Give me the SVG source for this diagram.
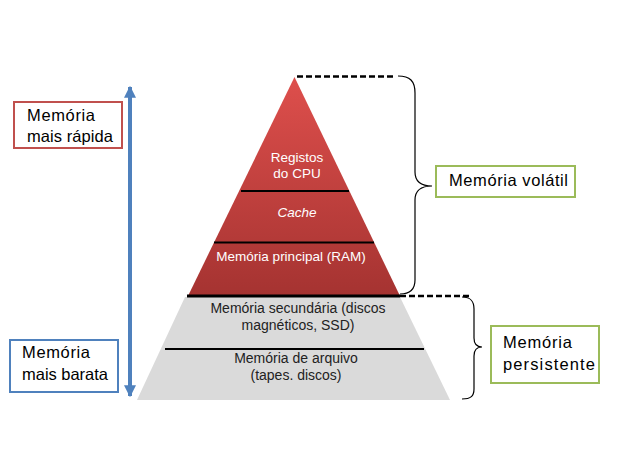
<svg xmlns="http://www.w3.org/2000/svg" width="644" height="470" viewBox="0 0 644 470">
<defs>
<linearGradient id="red" x1="0" y1="0" x2="0" y2="1">
<stop offset="0" stop-color="#DE4F4C"/>
<stop offset="1" stop-color="#A53331"/>
</linearGradient>
<marker id="ah" viewBox="0 0 10 10" refX="9" refY="5" markerWidth="3" markerHeight="4" orient="auto-start-reverse" markerUnits="strokeWidth">
<path d="M0,0 L10,5 L0,10 Z" fill="#4F81BD"/>
</marker>
<style>
.lbl{font-family:"Liberation Sans",Arial,sans-serif;font-size:16.5px;fill:#000}
.pw{font-family:"Liberation Sans",Arial,sans-serif;font-size:13.5px;fill:#fff;text-anchor:middle}
.pg{font-family:"Liberation Sans",Arial,sans-serif;font-size:14px;fill:#222;text-anchor:middle}
.sep{stroke:#000;stroke-width:2}
.dash{stroke:#000;stroke-width:2.5;stroke-dasharray:6 3;fill:none}
.brace{stroke:#000;stroke-width:1.2;fill:none}
.box{fill:#fff;stroke-width:2}
</style>
</defs>
<rect width="644" height="470" fill="#fff"/>
<g id="pyramid-bottom">
<polygon points="185,297 400,297 450,400 137,400" fill="#DADADA"/>
<line class="sep" x1="165" y1="349" x2="424" y2="349"/>
<text class="pg" x="298" y="313">Memória secundária (discos</text>
<text class="pg" x="298" y="330">magnéticos, SSD)</text>
<text class="pg" x="296" y="363">Memória de arquivo</text>
<text class="pg" x="296" y="380">(tapes. discos)</text>
</g>
<g id="pyramid-top">
<polygon points="294.5,77 400,296 188,296" fill="url(#red)"/>
<line class="sep" x1="241" y1="191" x2="349" y2="191"/>
<line class="sep" x1="214" y1="242.5" x2="374" y2="242.5"/>
<line x1="187" y1="296" x2="400" y2="296" stroke="#000" stroke-width="3"/>
<text class="pw" x="297" y="162">Registos</text>
<text class="pw" x="297" y="178">do CPU</text>
<text class="pw" x="297" y="217" font-style="italic">Cache</text>
<text class="pw" x="291" y="261">Memória principal (RAM)</text>
</g>
<g id="connectors">
<line class="dash" x1="297" y1="76.5" x2="396" y2="76.5"/>
<line class="dash" x1="400" y1="296" x2="472" y2="296"/>
<path class="brace" d="M398,76 C410,76 415,81 415,93 L415,172 C415,181 420,186 432,186 C420,186 415,191 415,200 L415,280 C415,290 410,294 400,294"/>
<path class="brace" d="M462,297 C471,297 474,301 474,309 L474,338 C474,344 477,347 482,347 C477,347 474,350 474,356 L474,389 C474,396 471,399 462,399"/>
<line x1="130" y1="87" x2="130" y2="396" stroke="#4F81BD" stroke-width="4" marker-start="url(#ah)" marker-end="url(#ah)"/>
</g>
<g id="fast">
<rect class="box" x="14" y="102" width="108" height="46" stroke="#C0504D"/>
<text class="lbl" x="27" y="121" textLength="68">Memória</text>
<text class="lbl" x="27" y="142" textLength="86">mais rápida</text>
</g>
<g id="cheap">
<rect class="box" x="10" y="340" width="108" height="52" stroke="#4F81BD"/>
<text class="lbl" x="22" y="358" textLength="68">Memória</text>
<text class="lbl" x="22" y="380" textLength="86">mais barata</text>
</g>
<g id="volatile">
<rect class="box" x="436" y="166" width="139" height="31" stroke="#9BBB59"/>
<text class="lbl" x="449" y="186" textLength="119">Memória volátil</text>
</g>
<g id="persistent">
<rect class="box" x="491" y="326" width="108" height="57" stroke="#9BBB59"/>
<text class="lbl" x="503" y="348" textLength="69">Memória</text>
<text class="lbl" x="503" y="370" textLength="92">persistente</text>
</g>
</svg>
